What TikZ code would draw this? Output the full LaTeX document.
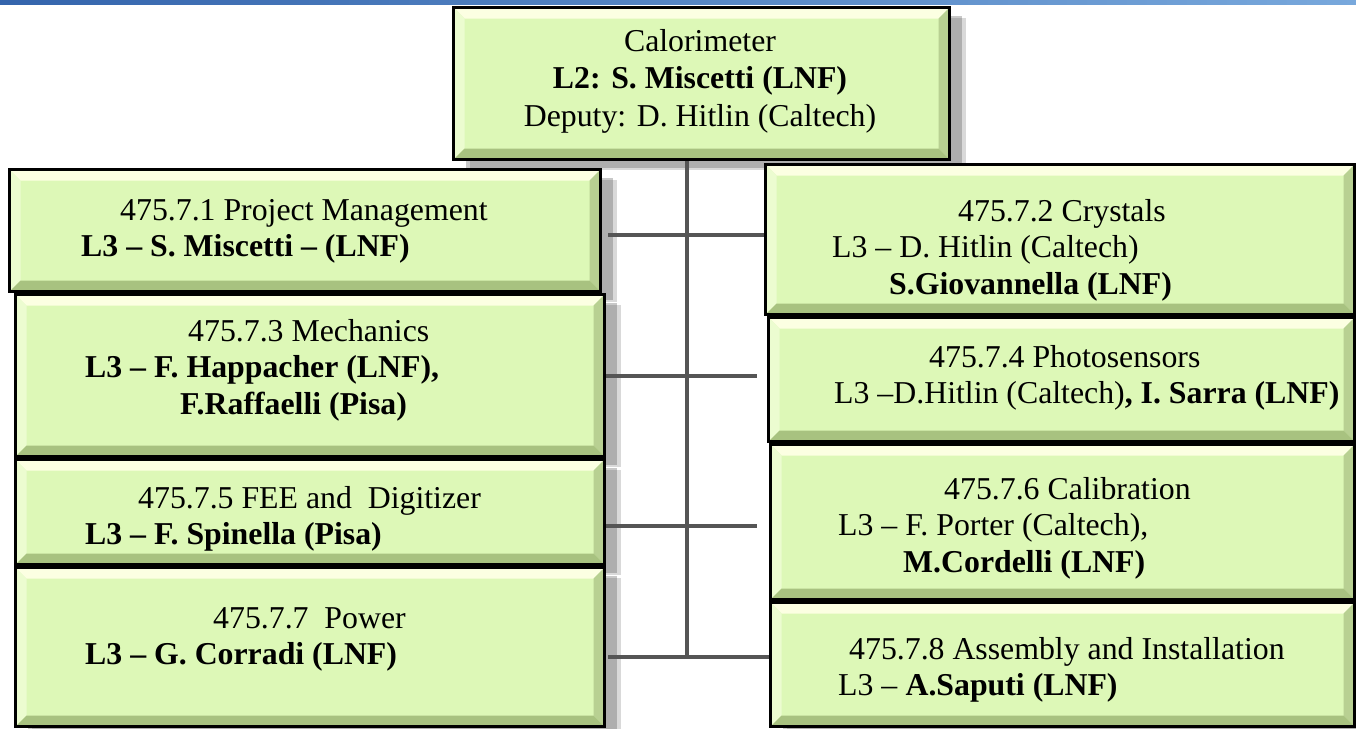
\documentclass[tikz,border=0pt]{standalone}
\usepackage{fontspec}
\setmainfont{Liberation Serif}
\usetikzlibrary{shadows}

\definecolor{boxface}{RGB}{221,248,183}
\definecolor{bevtop}{RGB}{252,255,226}
\definecolor{bevleft}{RGB}{236,252,208}
\definecolor{bevright}{RGB}{184,208,146}
\definecolor{bevbot}{RGB}{168,194,128}
\definecolor{conngray}{RGB}{85,85,85}
\definecolor{barblueL}{RGB}{52,100,172}
\definecolor{barblueR}{RGB}{120,168,220}

\tikzset{
  bevel/.style={path picture={
    \path (path picture bounding box.north west) coordinate (bnw)
          (path picture bounding box.north east) coordinate (bne)
          (path picture bounding box.south west) coordinate (bsw)
          (path picture bounding box.south east) coordinate (bse);
    \fill[bevtop] (bnw) -- (bne) -- ([shift={(-11pt,-11pt)}]bne) -- ([shift={(11pt,-11pt)}]bnw) -- cycle;
    \fill[bevleft] (bnw) -- (bsw) -- ([shift={(11pt,11pt)}]bsw) -- ([shift={(11pt,-11pt)}]bnw) -- cycle;
    \fill[bevright] (bne) -- (bse) -- ([shift={(-11pt,11pt)}]bse) -- ([shift={(-11pt,-11pt)}]bne) -- cycle;
    \fill[bevbot] (bsw) -- (bse) -- ([shift={(-11pt,11pt)}]bse) -- ([shift={(11pt,11pt)}]bsw) -- cycle;
  }}
}

\begin{document}
\begin{tikzpicture}[x=1pt,y=-1pt,
  wbs/.style={draw=black,line width=3pt,fill=boxface,bevel,
    general shadow={shadow xshift=16pt,shadow yshift=-10pt,opacity=0.15,fill=black},
    general shadow={shadow xshift=12pt,shadow yshift=-8pt,opacity=0.3,fill=black!70},
    anchor=north west,inner sep=0pt},
  lbl/.style={font=\fontsize{31.8}{36.5}\selectfont,align=left,inner sep=0pt,anchor=north west},
  conn/.style={draw=conngray,line width=4pt}]

  % Frame of the slide
  \useasboundingbox (0,0) rectangle (1356,728);
  \fill[white] (0,0) rectangle (1356,728);
  \shade[left color=barblueL,right color=barblueR] (0,0) rectangle (1356,4);

  % L2 box
  \node[wbs,minimum width=496,minimum height=152] (cal2) at (452,6) {};
  \node[lbl,align=center,anchor=north,font=\fontsize{31.8}{37.5}\selectfont] (cal2-t) at (700,29)
    {Calorimeter\\ \textbf{L2: S. Miscetti (LNF)}\\ Deputy: D. Hitlin (Caltech)};

  % L3 boxes, left column then right column
  \foreach \name/\x/\y/\w/\h in {pm/8/168/591/122, mech/14/293/589/162,
      fee/14/458/589/105, pwr/14/566/589/159,
      cry/764/163/589/150, pho/767/316/586/124,
      calib/769/443/584/155, asm/769/601/584/124}
    \node[wbs,minimum width=\w,minimum height=\h] (\name) at (\x,\y) {};

  % Texts
  \node[lbl] (pm-t) at (81,199)
    {\hspace*{39pt}475.7.1 Project Management\\ \textbf{L3 – S. Miscetti – (LNF)}};
  \node[lbl] (mech-t) at (85,319)
    {\hspace*{103pt}475.7.3 Mechanics\\ \textbf{L3 – F. Happacher (LNF),}\\
     \hspace*{95pt}\textbf{F.Raffaelli (Pisa)}};
  \node[lbl] (fee-t) at (85,486)
    {\hspace*{53pt}475.7.5 FEE and\ \ Digitizer\\ \textbf{L3 – F. Spinella (Pisa)}};
  \node[lbl] (pwr-t) at (85,607)
    {\hspace*{128pt}475.7.7\ \ Power\\ \textbf{L3 – G. Corradi (LNF)}};
  \node[lbl] (cry-t) at (832,199)
    {\hspace*{126pt}475.7.2 Crystals\\ L3 – D. Hitlin (Caltech)\\
     \hspace*{57pt}\textbf{S.Giovannella (LNF)}};
  \node[lbl] (pho-t) at (834,345)
    {\hspace*{95pt}475.7.4 Photosensors\\ L3 –D.Hitlin (Caltech)\textbf{, I. Sarra (LNF)}};
  \node[lbl] (calib-t) at (838,477)
    {\hspace*{106pt}475.7.6 Calibration\\ L3 – F. Porter (Caltech),\\
     \hspace*{65pt}\textbf{M.Cordelli (LNF)}};
  \node[lbl] (asm-t) at (838,637)
    {\hspace*{11pt}475.7.8 Assembly and Installation\\ L3 – \textbf{A.Saputi (LNF)}};

  % Connectors
  \coordinate (bus) at (687,657);
  \coordinate (h1) at (608,235);
  \coordinate (h2) at (757,376);
  \coordinate (h3) at (757,526);
  \coordinate (h4) at (608,657);
  \draw[conn] (cal2.south -| bus) -- (bus);
  \draw[conn] (h1) -- (h1 -| cry.west);
  \draw[conn] (mech.east |- h2) -- (h2);
  \draw[conn] (fee.east |- h3) -- (h3);
  \draw[conn] (h4) -- (h4 -| asm.west);

\end{tikzpicture}
\end{document}
